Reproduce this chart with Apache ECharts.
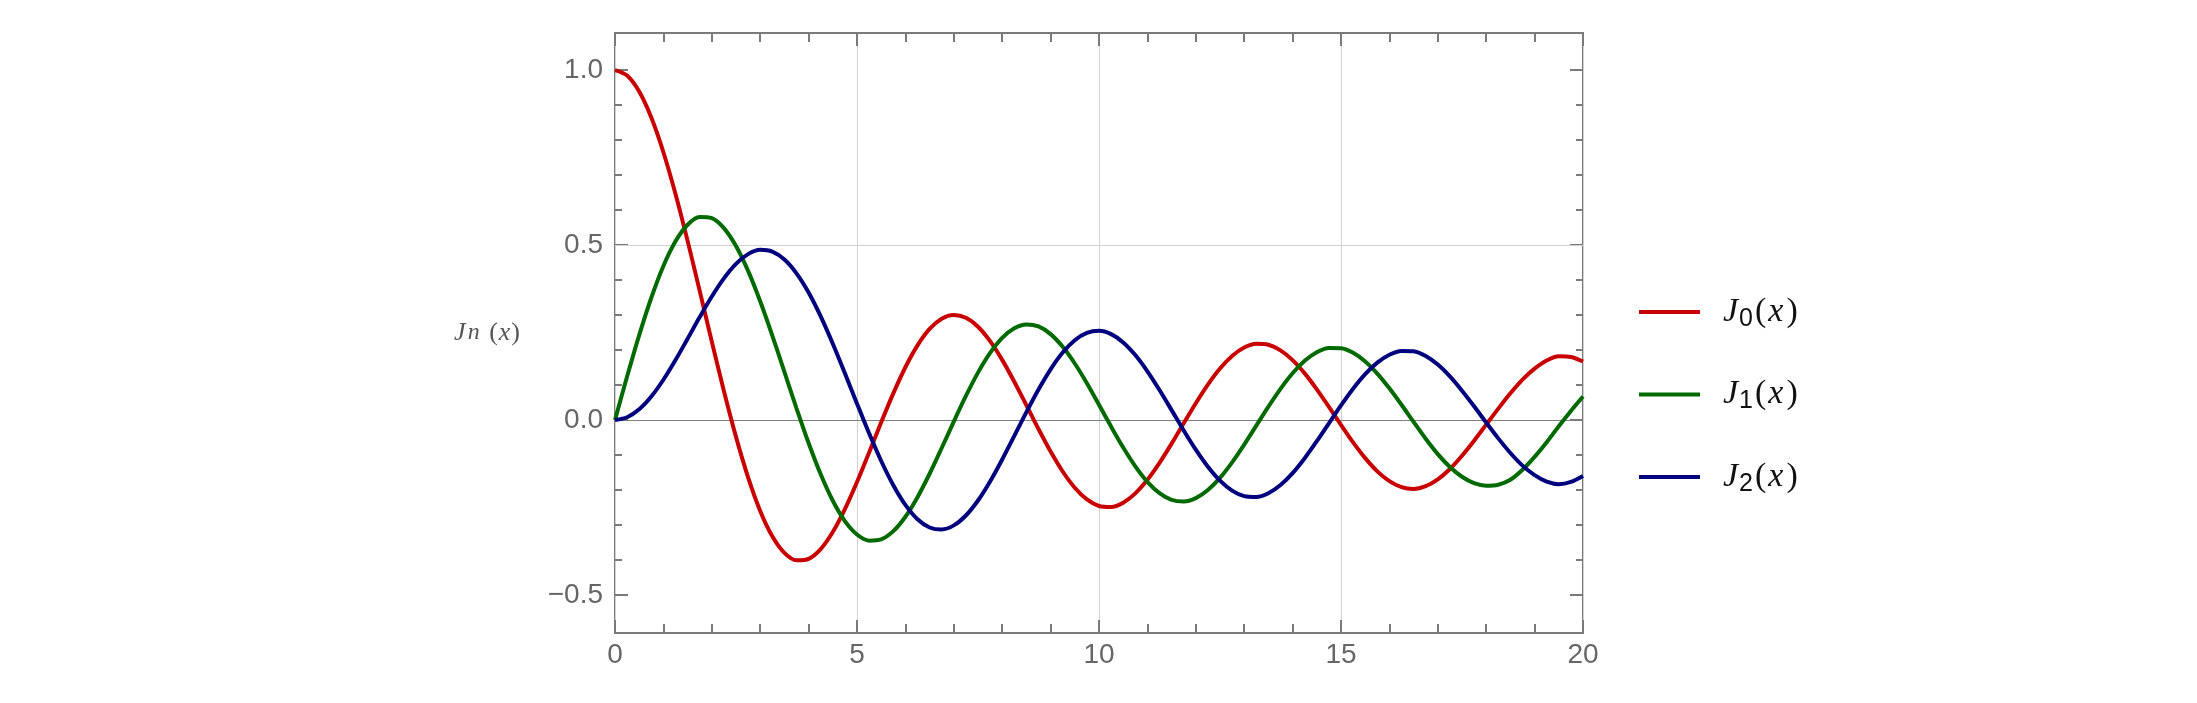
<!DOCTYPE html>
<html>
<head>
<meta charset="utf-8">
<script src="https://cdn.jsdelivr.net/npm/echarts@6/dist/echarts.min.js"></script>
<style>
html,body{margin:0;padding:0;background:#fff;}
#chart{width:2197px;height:703px;}
</style>
</head>
<body>
<div id="chart"></div>
<script>
// x sample points (step 0.25)
const xs = [0,0.25,0.5,0.75,1,1.25,1.5,1.75,2,2.25,2.5,2.75,3,3.25,3.5,3.75,4,4.25,4.5,4.75,5,5.25,5.5,5.75,6,6.25,6.5,6.75,7,7.25,7.5,7.75,8,8.25,8.5,8.75,9,9.25,9.5,9.75,10,10.25,10.5,10.75,11,11.25,11.5,11.75,12,12.25,12.5,12.75,13,13.25,13.5,13.75,14,14.25,14.5,14.75,15,15.25,15.5,15.75,16,16.25,16.5,16.75,17,17.25,17.5,17.75,18,18.25,18.5,18.75,19,19.25,19.5,19.75,20];
const j0 = [1.0000,0.9844,0.9385,0.8642,0.7652,0.6459,0.5118,0.3690,0.2239,0.0828,-0.0484,-0.1641,-0.2601,-0.3327,-0.3801,-0.4013,-0.3971,-0.3691,-0.3205,-0.2551,-0.1776,-0.0931,-0.0068,0.0759,0.1506,0.2130,0.2601,0.2894,0.3001,0.2919,0.2663,0.2252,0.1717,0.1092,0.0419,-0.0259,-0.0903,-0.1474,-0.1939,-0.2273,-0.2459,-0.2489,-0.2366,-0.2100,-0.1712,-0.1227,-0.0677,-0.0097,0.0477,0.1009,0.1469,0.1829,0.2069,0.2177,0.2150,0.1990,0.1711,0.1331,0.0875,0.0374,-0.0142,-0.0641,-0.1092,-0.1469,-0.1749,-0.1921,-0.1973,-0.1894,-0.1699,-0.1401,-0.1022,-0.0594,-0.0134,0.0324,0.0761,0.1154,0.1466,0.1698,0.1820,0.1798,0.1670];
const j1 = [0.0000,0.1240,0.2423,0.3493,0.4401,0.5106,0.5579,0.5801,0.5767,0.5483,0.4971,0.4260,0.3391,0.2411,0.1374,0.0333,-0.0660,-0.1555,-0.2311,-0.2892,-0.3276,-0.3450,-0.3414,-0.3179,-0.2767,-0.2207,-0.1538,-0.0803,-0.0047,0.0685,0.1352,0.1915,0.2346,0.2621,0.2731,0.2672,0.2453,0.2091,0.1613,0.1049,0.0435,-0.0190,-0.0789,-0.1325,-0.1768,-0.2093,-0.2284,-0.2330,-0.2234,-0.2003,-0.1655,-0.1212,-0.0703,-0.0162,0.0380,0.0889,0.1334,0.1689,0.1934,0.2056,0.2051,0.1919,0.1672,0.1326,0.0904,0.0434,-0.0056,-0.0537,-0.0977,-0.1345,-0.1623,-0.1808,-0.1880,-0.1851,-0.1711,-0.1426,-0.1057,-0.0638,-0.0180,0.0256,0.0668];
const j2 = [0.0000,0.0078,0.0306,0.0671,0.1149,0.1711,0.2321,0.2940,0.3528,0.4047,0.4461,0.4740,0.4862,0.4811,0.4586,0.4191,0.3641,0.2960,0.2178,0.1333,0.0466,-0.0383,-0.1173,-0.1865,-0.2429,-0.2837,-0.3074,-0.3132,-0.3014,-0.2731,-0.2303,-0.1758,-0.1130,-0.0457,0.0223,0.0870,0.1448,0.1926,0.2279,0.2488,0.2546,0.2452,0.2216,0.1854,0.1390,0.0855,0.0280,-0.0300,-0.0849,-0.1337,-0.1734,-0.2019,-0.2177,-0.2202,-0.2094,-0.1861,-0.1520,-0.1093,-0.0608,-0.0095,0.0415,0.0892,0.1308,0.1637,0.1862,0.1974,0.1966,0.1829,0.1584,0.1245,0.0837,0.0391,-0.0075,-0.0527,-0.0946,-0.1306,-0.1577,-0.1764,-0.1838,-0.1772,-0.1603];
const seriesNames = ['J0(x)','J1(x)','J2(x)'];
const seriesSubs = ['0','1','2'];
const yMajorTicks = [-0.5, 0, 0.5, 1.0];
const yMinorTicks = [-0.4,-0.3,-0.2,-0.1,0.1,0.2,0.3,0.4,0.6,0.7,0.8,0.9];
const yGridLines = [0.5];
const yZeroLine = [0];

const colors = ['#c80000','#006a00','#00007f'];
const Y_MIN = -0.609, Y_MAX = 1.106;
const frameColor = '#7a7a7a';
const labelColor = '#666666';

const chart = echarts.init(document.getElementById('chart'), null, {renderer:'canvas'});

function pairs(arr){ return xs.map((x,i)=>[x, arr[i]]); }
const fmtY = v => (v < 0 ? '\u2212' : '') + Math.abs(v).toFixed(1);

function yAx(pos, custom, len, withLabel, extra){
  return Object.assign({
    type:'value', min:Y_MIN, max:Y_MAX, position:pos, gridIndex:0,
    axisLine:{show:false, onZero:false},
    axisTick:{show:true, inside:true, length:len, customValues:custom, lineStyle:{color:frameColor, width:2}},
    axisLabel:{show:withLabel, customValues:custom, formatter:fmtY, color:labelColor, fontSize:28, fontFamily:'Liberation Sans', margin:12},
    splitLine:{show:false}
  }, extra||{});
}
function xAx(pos, withLabel, grid){
  return {
    type:'value', min:0, max:20, interval:5, position:pos, gridIndex:0,
    axisLine:{show:false, onZero:false},
    axisTick:{show:true, inside:true, length:13, lineStyle:{color:frameColor, width:2}},
    minorTick:{show:true, splitNumber:5, length:9, lineStyle:{color:frameColor, width:2}},
    axisLabel:{show:withLabel, color:labelColor, fontSize:28, fontFamily:'Liberation Sans', margin:8},
    splitLine:{show:grid, lineStyle:{color:'#d2d2d2', width:1}},
    minorSplitLine:{show:false}
  };
}

const legendRich = {
  j:{fontFamily:'Liberation Serif', fontStyle:'italic', fontSize:34, color:'#111', padding:[0,1,0,18]},
  s:{fontFamily:'Liberation Sans', fontSize:25, color:'#111', padding:[14,2,0,0]},
  p:{fontFamily:'Liberation Serif', fontSize:34, color:'#111'},
  x:{fontFamily:'Liberation Serif', fontStyle:'italic', fontSize:34, color:'#111', padding:[0,3,0,2]}
};

const series = [j0,j1,j2].map((arr,i)=>({
  name:seriesNames[i], type:'line', data:pairs(arr), smooth:0.3, showSymbol:false,
  xAxisIndex:0, yAxisIndex:0, z:5,
  lineStyle:{color:colors[i], width:4}, itemStyle:{color:colors[i]}
}));
series.unshift({
  type:'line', data:[], xAxisIndex:0, yAxisIndex:0, z:1, silent:true,
  markLine:{
    silent:true, symbol:'none', animation:false, label:{show:false},
    data: yGridLines.map(v=>({yAxis:v, lineStyle:{color:'#d2d2d2', width:1, type:'solid'}}))
      .concat(yZeroLine.map(v=>({yAxis:v, lineStyle:{color:'#7f7f7f', width:1.2, type:'solid'}})))
  }
});

chart.setOption({
  animation:false,
  backgroundColor:'#ffffff',
  grid:{left:615, top:33, width:968, height:600, show:true, borderColor:frameColor, borderWidth:2, backgroundColor:'transparent', containLabel:false},
  xAxis:[xAx('bottom', true, true), xAx('top', false, false)],
  yAxis:[
    yAx('left', yMajorTicks, 13, true, {
      name:'{j|J}{n|n}{p| (}{x|x}{p|)}', nameLocation:'middle', nameRotate:0, nameGap:95,
      nameTextStyle:{rich:{
        j:{fontFamily:'Liberation Serif', fontStyle:'italic', fontSize:26, color:'#555', padding:[0,2,0,0]},
        n:{fontFamily:'Liberation Serif', fontStyle:'italic', fontSize:24, color:'#555', padding:[0,3,0,0]},
        p:{fontFamily:'Liberation Serif', fontSize:26, color:'#555'},
        x:{fontFamily:'Liberation Serif', fontStyle:'italic', fontSize:26, color:'#555', padding:[0,1,0,1]}
      }}
    }),
    yAx('right', yMajorTicks, 13, false),
    yAx('left', yMinorTicks, 7, false),
    yAx('right', yMinorTicks, 7, false)
  ],
  legend:{
    show:true, orient:'vertical', left:1634, top:290, itemWidth:61, itemHeight:4, itemGap:46,
    icon:'rect', data:seriesNames,
    formatter:(name)=>{ const i = seriesNames.indexOf(name); return '{j|J}{s|'+seriesSubs[i]+'}{p|(}{x|x}{p|)}'; },
    textStyle:{rich:legendRich}
  },
  series:series
});
</script>
</body>
</html>
